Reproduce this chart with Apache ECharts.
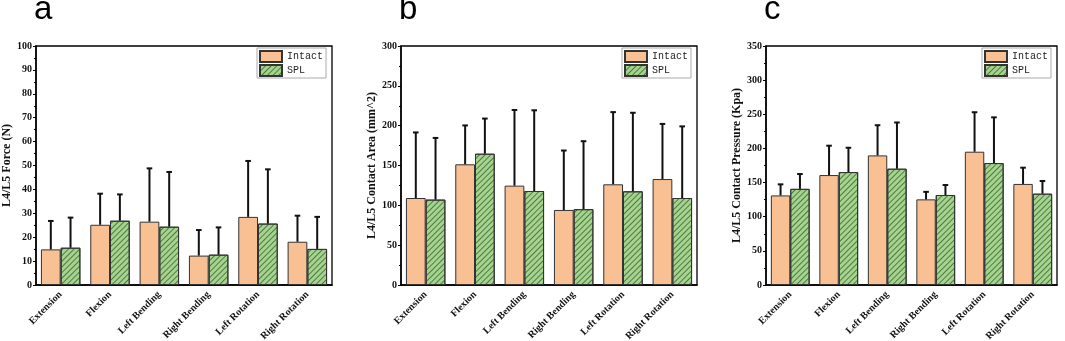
<!DOCTYPE html>
<html>
<head>
<meta charset="utf-8">
<script src="https://cdn.jsdelivr.net/npm/echarts@6/dist/echarts.min.js"></script>
<style>
  html, body { margin: 0; padding: 0; background: #fff; }
  #main { width: 1065px; height: 341px; }
</style>
</head>
<body>
<div id="main"></div>
<script>
// categories shared by all three panels
const categories = ['Extension', 'Flexion', 'Left Bending', 'Right Bending', 'Left Rotation', 'Right Rotation'];

// panel a - force (N)
const intactForce = [14.9, 25.2, 26.5, 12.3, 28.5, 18.1];
const intactForceSD = [11.9, 13.0, 22.3, 10.7, 23.4, 10.9];
const splForce = [15.6, 26.9, 24.4, 12.7, 25.7, 15.1];
const splForceSD = [12.6, 11.0, 22.9, 11.4, 22.7, 13.4];

// panel b - contact area (mm^2)
const intactArea = [109.2, 151.5, 124.7, 94.2, 126.4, 133.0];
const intactAreaSD = [82.3, 48.8, 95.0, 74.6, 90.6, 69.2];
const splArea = [107.2, 164.8, 118.0, 95.2, 117.6, 109.2];
const splAreaSD = [77.4, 44.1, 101.3, 85.3, 98.6, 89.9];

// panel c - contact pressure (Kpa)
const intactPressure = [131.2, 161.0, 189.8, 125.4, 195.2, 148.0];
const intactPressureSD = [16.2, 43.0, 44.2, 11.0, 57.8, 23.8];
const splPressure = [140.8, 165.4, 170.3, 131.8, 178.6, 133.7];
const splPressureSD = [21.7, 35.6, 67.7, 14.6, 66.9, 18.6];

const panelLetters = ['a', 'b', 'c'];
const yNames = ['L4/L5 Force (N)', 'L4/L5 Contact Area (mm^2)', 'L4/L5 Contact Pressure (Kpa)'];
const yMax = [100, 300, 350];
const yInterval = [10, 50, 50];

const panels = [
  { intact: intactForce, intactSD: intactForceSD, spl: splForce, splSD: splForceSD },
  { intact: intactArea, intactSD: intactAreaSD, spl: splArea, splSD: splAreaSD },
  { intact: intactPressure, intactSD: intactPressureSD, spl: splPressure, splSD: splPressureSD },
];

// layout of the three plot boxes
const grids = [
  { left: 36, top: 46, width: 296, height: 239 },
  { left: 401, top: 46, width: 296, height: 239 },
  { left: 766, top: 46, width: 291, height: 239 },
];

const serif = 'Liberation Serif';
const orange = '#F9C193';
const green = '#A6D38F';

const hatch = {
  symbol: 'rect',
  symbolSize: 1,
  dashArrayX: [1, 0],
  dashArrayY: [1, 3],
  rotation: -Math.PI / 4,
  color: 'rgba(45, 95, 35, 0.75)',
};

// draws the upper half of an error bar above one of the two grouped bars
function errorBar(side) {
  return function (params, api) {
    const idx = api.value(0);
    const base = api.coord([idx, api.value(1)]);
    const top = api.coord([idx, api.value(1) + api.value(2)]);
    const band = api.size([1, 0])[0];
    const x = base[0] + side * band * 0.2;
    const st = { stroke: '#111', lineWidth: 2 };
    return {
      type: 'group',
      children: [
        { type: 'line', shape: { x1: x, y1: base[1], x2: x, y2: top[1] }, style: st },
        { type: 'line', shape: { x1: x - 2.8, y1: top[1], x2: x + 2.8, y2: top[1] }, style: st },
      ],
    };
  };
}

const option = {
  animation: false,
  backgroundColor: '#fff',
  grid: grids.map(g => Object.assign({
    show: true, borderColor: '#000', borderWidth: 1.3, backgroundColor: 'transparent',
    containLabel: false, outerBoundsMode: 'none',
  }, g)),
  legend: grids.map(g => ({
    data: ['Intact', 'SPL'],
    orient: 'vertical',
    left: g.left + g.width - 75,
    top: 48,
    padding: [2, 3, 1, 2],
    itemGap: 1,
    itemWidth: 22,
    itemHeight: 11,
    icon: 'rect',
    borderColor: '#aaa',
    borderWidth: 1,
    textStyle: { fontFamily: 'Liberation Mono', fontSize: 10, color: '#222', padding: [0, 0, 0, 0] },
  })),
  xAxis: grids.map((g, i) => ({
    type: 'category',
    gridIndex: i,
    data: categories,
    axisTick: { show: false },
    axisLine: { lineStyle: { color: '#000', width: 1.5 } },
    axisLabel: {
      rotate: 45, interval: 0, margin: 8,
      fontFamily: serif, fontWeight: 'bold', fontSize: 10, color: '#111',
    },
  })),
  yAxis: grids.map((g, i) => ({
    type: 'value',
    gridIndex: i,
    min: 0,
    max: yMax[i],
    interval: yInterval[i],
    name: yNames[i],
    nameLocation: 'middle',
    nameGap: 22,
    nameTextStyle: { fontFamily: serif, fontWeight: 'bold', fontSize: 12, color: '#111' },
    axisLine: { show: true, lineStyle: { color: '#000', width: 1.5 } },
    axisTick: { show: true, inside: false, length: 3, lineStyle: { color: '#000', width: 1 } },
    minorTick: { show: true, splitNumber: 2, length: 2, lineStyle: { color: '#000', width: 1 } },
    splitLine: { show: false },
    axisLabel: { margin: 4, fontFamily: serif, fontWeight: 'bold', fontSize: 10, color: '#111' },
  })),
  series: [],
  graphic: grids.map((g, i) => ({
    type: 'text',
    left: g.left - 2,
    top: -7,
    style: { text: panelLetters[i], font: '33px "Liberation Sans"', fill: '#000' },
  })),
};

panels.forEach((p, i) => {
  option.series.push(
    {
      name: 'Intact', type: 'bar', xAxisIndex: i, yAxisIndex: i,
      data: p.intact, barGap: '0%', barCategoryGap: '20%',
      itemStyle: { color: orange, borderColor: '#333', borderWidth: 1 },
    },
    {
      name: 'SPL', type: 'bar', xAxisIndex: i, yAxisIndex: i,
      data: p.spl, barGap: '0%', barCategoryGap: '20%',
      itemStyle: { color: green, borderColor: '#333', borderWidth: 1, decal: hatch },
    },
    {
      type: 'custom', xAxisIndex: i, yAxisIndex: i, z: 3,
      renderItem: errorBar(-1),
      data: p.intact.map((v, k) => [k, v, p.intactSD[k]]),
      encode: { x: 0, y: 1 },
    },
    {
      type: 'custom', xAxisIndex: i, yAxisIndex: i, z: 3,
      renderItem: errorBar(1),
      data: p.spl.map((v, k) => [k, v, p.splSD[k]]),
      encode: { x: 0, y: 1 },
    }
  );
});

const chart = echarts.init(document.getElementById('main'), null, { renderer: 'canvas' });
chart.setOption(option);
</script>
</body>
</html>
